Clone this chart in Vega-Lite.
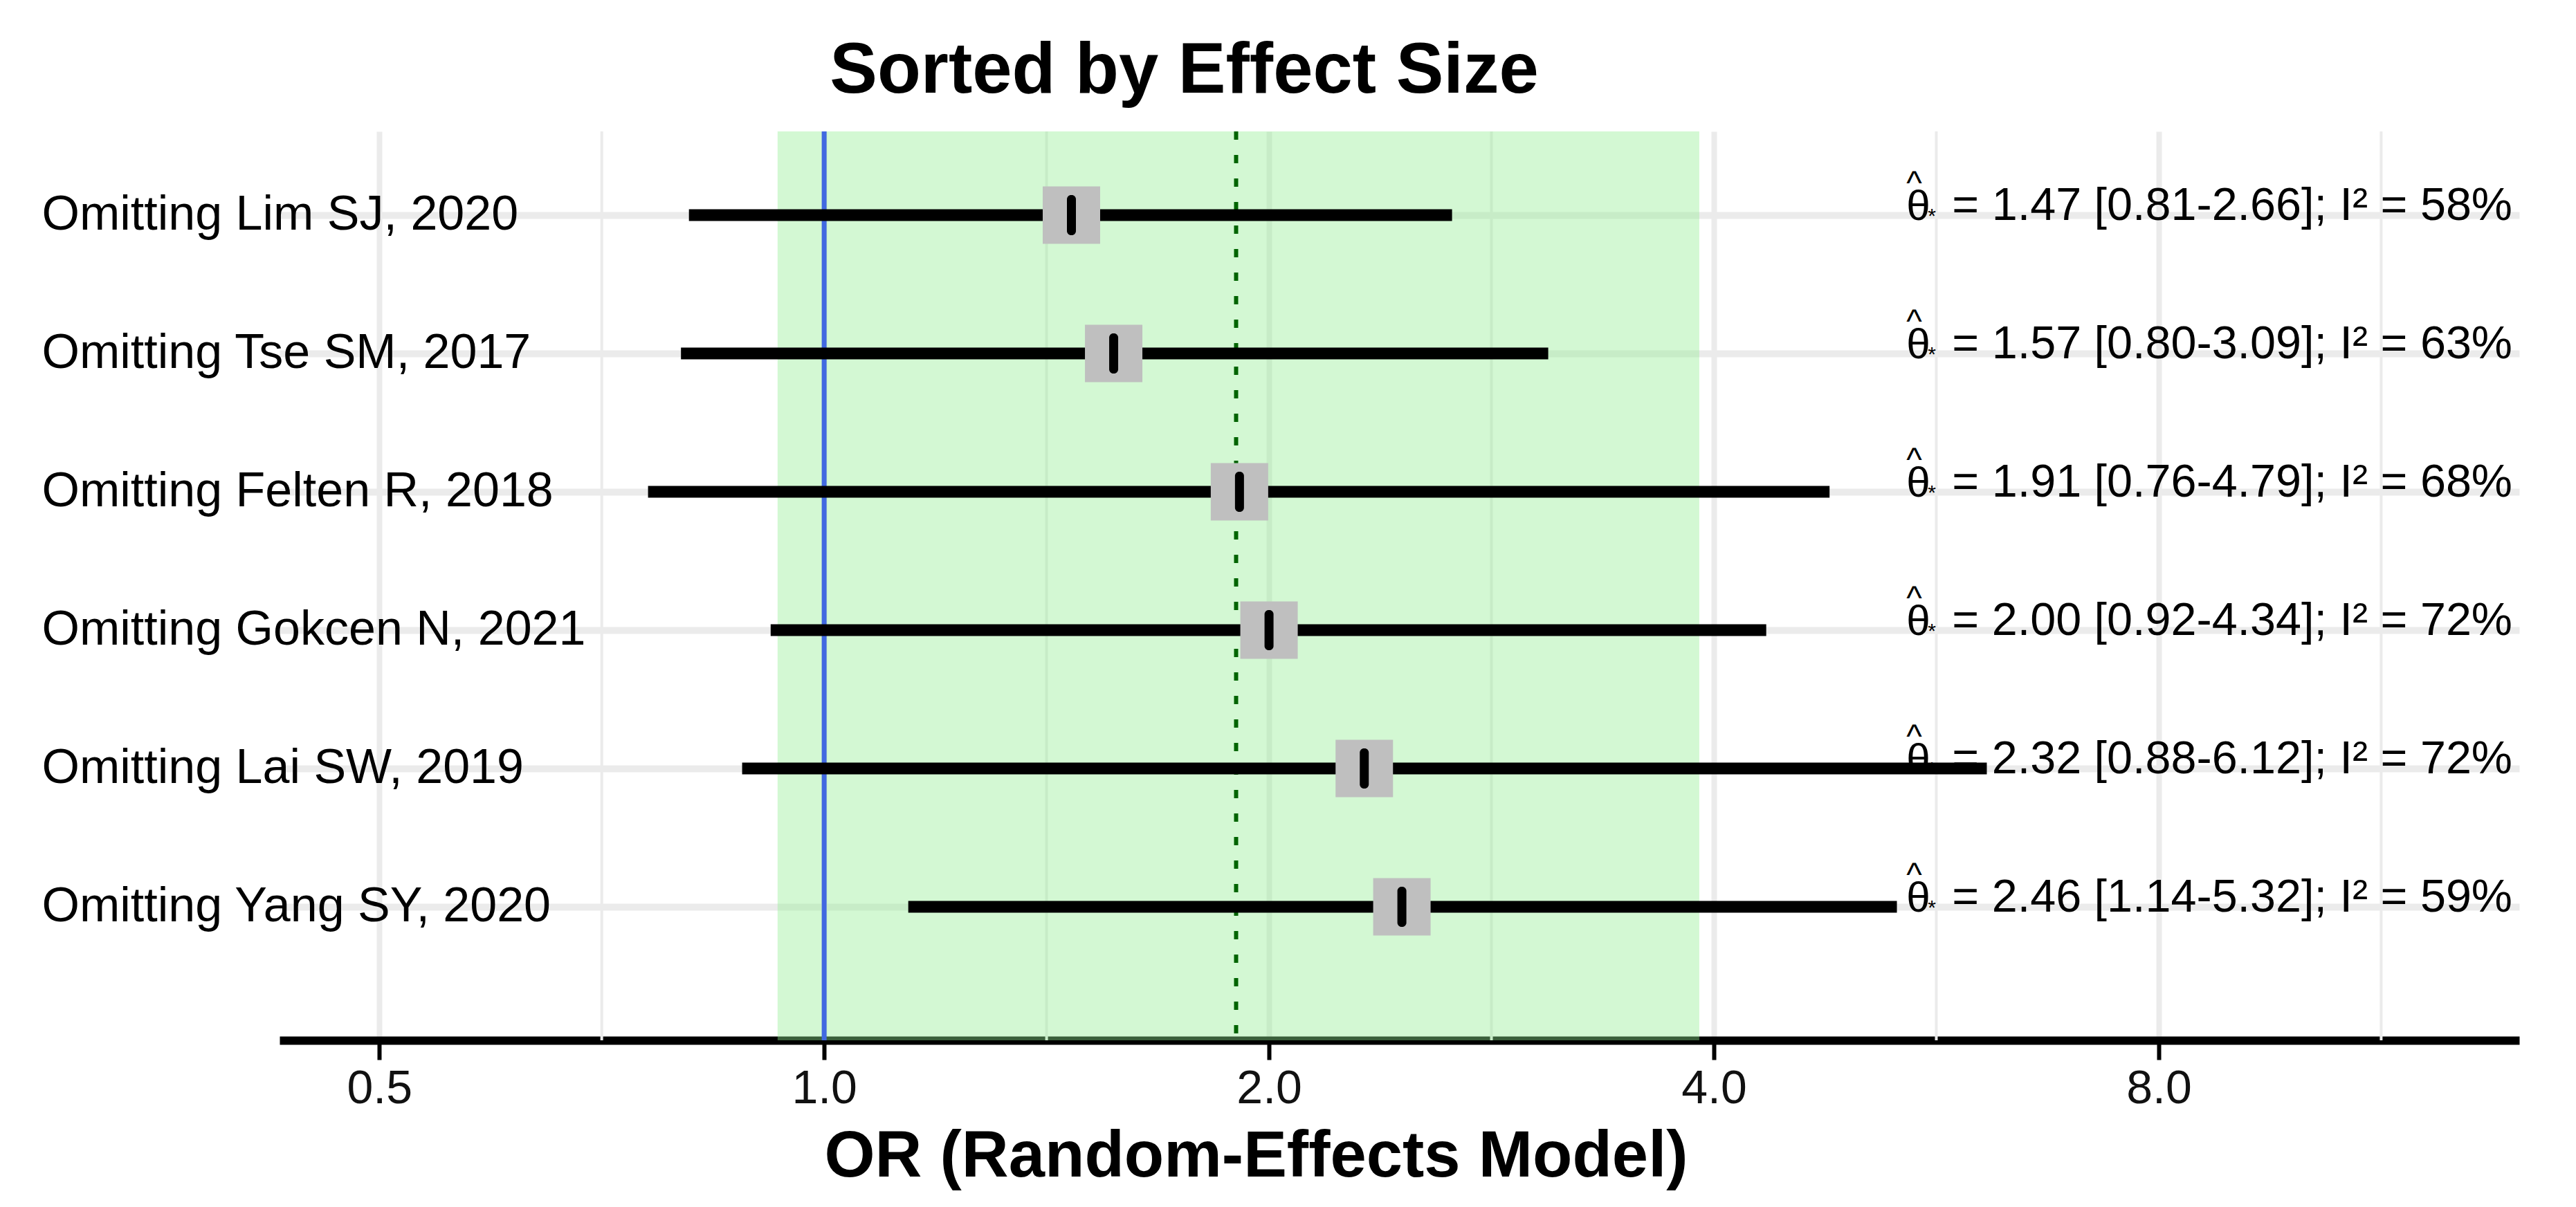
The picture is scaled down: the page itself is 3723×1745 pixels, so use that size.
{
  "$schema": "https://vega.github.io/schema/vega-lite/v6.json",
  "width": 3237,
  "height": 1314,
  "autosize": {"type": "none"},
  "padding": {"left": 404, "top": 190, "right": 82, "bottom": 241},
  "background": "white",
  "config": {
    "view": {"stroke": null},
    "font": "Liberation Sans",
    "axisX": {
      "grid": true,
      "gridColor": "#ebebeb",
      "gridWidth": 8,
      "domain": true,
      "domainColor": "#000000",
      "domainWidth": 12,
      "ticks": true,
      "tickColor": "#000000",
      "tickWidth": 6,
      "tickSize": 28,
      "labelFont": "Liberation Sans",
      "labelFontSize": 68,
      "labelColor": "#111111",
      "labelPadding": 8,
      "labelFlush": false,
      "titleFont": "Liberation Sans",
      "titleFontSize": 94,
      "titleFontWeight": "bold",
      "titleColor": "#000000",
      "titleAlign": "center",
      "titleBaseline": "alphabetic",
      "titleX": 1411,
      "titleY": 196
    },
    "axisY": {
      "domain": false,
      "ticks": false,
      "tickSize": 0,
      "grid": true,
      "gridColor": "#ebebeb",
      "gridWidth": 10,
      "labelAlign": "left",
      "labelBaseline": "middle",
      "labelPadding": 344,
      "labelLimit": 2000,
      "labelFont": "Liberation Sans",
      "labelFontSize": 70,
      "labelColor": "#000000"
    }
  },
  "title": {
    "text": "Sorted by Effect Size",
    "font": "Liberation Sans",
    "fontSize": 103,
    "fontWeight": "bold",
    "color": "#000000",
    "anchor": "middle",
    "frame": "group",
    "baseline": "alphabetic",
    "offset": 41,
    "dx": -311,
    "dy": 91
  },
  "datasets": {
    "studies": [
      {"study": "Omitting Lim SJ, 2020", "estimate": 1.47, "ci_lo": 0.81, "ci_hi": 2.66, "i2": 58, "label": "= 1.47 [0.81-2.66]; I² = 58%"},
      {"study": "Omitting Tse SM, 2017", "estimate": 1.57, "ci_lo": 0.80, "ci_hi": 3.09, "i2": 63, "label": "= 1.57 [0.80-3.09]; I² = 63%"},
      {"study": "Omitting Felten R, 2018", "estimate": 1.91, "ci_lo": 0.76, "ci_hi": 4.79, "i2": 68, "label": "= 1.91 [0.76-4.79]; I² = 68%"},
      {"study": "Omitting Gokcen N, 2021", "estimate": 2.00, "ci_lo": 0.92, "ci_hi": 4.34, "i2": 72, "label": "= 2.00 [0.92-4.34]; I² = 72%"},
      {"study": "Omitting Lai SW, 2019", "estimate": 2.32, "ci_lo": 0.88, "ci_hi": 6.12, "i2": 72, "label": "= 2.32 [0.88-6.12]; I² = 72%"},
      {"study": "Omitting Yang SY, 2020", "estimate": 2.46, "ci_lo": 1.14, "ci_hi": 5.32, "i2": 59, "label": "= 2.46 [1.14-5.32]; I² = 59%"}
    ],
    "summary": [
      {"pooled": 1.90, "pi_lo": 0.93, "pi_hi": 3.91}
    ],
    "minor_breaks": [
      {"brk": 0.7071}, {"brk": 1.4142}, {"brk": 2.8284}, {"brk": 5.6569}, {"brk": 11.3137}
    ]
  },
  "layer": [
    {
      "data": {"name": "minor_breaks"},
      "mark": {"type": "rule", "color": "#ebebeb", "strokeWidth": 4},
      "encoding": {
        "x": {
          "field": "brk",
          "type": "quantitative",
          "title": "OR (Random-Effects Model)",
          "scale": {"type": "log", "base": 2, "domain": [0.428, 14.03], "nice": false, "zero": false},
          "axis": {
            "values": [0.5, 1, 2, 4, 8],
            "format": ".1f"
          }
        }
      }
    },
    {
      "data": {"name": "summary"},
      "mark": {"type": "rect", "fill": "#90ee90", "opacity": 0.4},
      "encoding": {
        "x": {"field": "pi_lo", "type": "quantitative", "title": "OR (Random-Effects Model)"},
        "x2": {"field": "pi_hi"}
      }
    },
    {
      "data": {"name": "summary"},
      "mark": {"type": "rule", "color": "#4169e1", "strokeWidth": 7},
      "encoding": {
        "x": {"datum": 1, "type": "quantitative", "title": "OR (Random-Effects Model)"}
      }
    },
    {
      "data": {"name": "summary"},
      "mark": {"type": "rule", "color": "#006400", "strokeWidth": 6, "strokeDash": [12, 22]},
      "encoding": {
        "x": {"field": "pooled", "type": "quantitative", "title": "OR (Random-Effects Model)"}
      }
    },
    {
      "data": {"name": "studies"},
      "mark": {"type": "rule", "color": "#000000", "strokeWidth": 17},
      "encoding": {
        "x": {"field": "ci_lo", "type": "quantitative", "title": "OR (Random-Effects Model)"},
        "x2": {"field": "ci_hi"},
        "y": {
          "field": "study",
          "type": "nominal",
          "sort": null,
          "title": null,
          "scale": {"type": "point", "padding": 0.785, "align": 0.385}
        }
      }
    },
    {
      "data": {"name": "studies"},
      "mark": {"type": "point", "shape": "square", "filled": true, "size": 6889, "color": "#bfbfbf", "opacity": 1},
      "encoding": {
        "x": {"field": "estimate", "type": "quantitative", "title": "OR (Random-Effects Model)"},
        "y": {"field": "study", "type": "nominal", "sort": null, "title": null}
      }
    },
    {
      "data": {"name": "studies"},
      "mark": {"type": "tick", "orient": "vertical", "size": 58, "thickness": 13, "color": "#000000", "opacity": 1, "cornerRadius": 6},
      "encoding": {
        "x": {"field": "estimate", "type": "quantitative", "title": "OR (Random-Effects Model)"},
        "y": {"field": "study", "type": "nominal", "sort": null, "title": null}
      }
    },
    {
      "data": {"name": "studies"},
      "mark": {"type": "text", "align": "left", "baseline": "alphabetic", "dy": 7, "font": "Liberation Sans", "fontSize": 62, "color": "#000000"},
      "encoding": {
        "x": {"datum": 5.4, "type": "quantitative", "title": "OR (Random-Effects Model)"},
        "y": {"field": "study", "type": "nominal", "sort": null, "title": null},
        "text": {"value": "θ"}
      }
    },
    {
      "data": {"name": "studies"},
      "mark": {"type": "text", "align": "left", "baseline": "alphabetic", "dy": -30, "dx": 0, "font": "Liberation Sans", "fontSize": 48, "color": "#000000"},
      "encoding": {
        "x": {"datum": 5.4, "type": "quantitative", "title": "OR (Random-Effects Model)"},
        "y": {"field": "study", "type": "nominal", "sort": null, "title": null},
        "text": {"value": "^"}
      }
    },
    {
      "data": {"name": "studies"},
      "mark": {"type": "text", "align": "left", "baseline": "alphabetic", "dy": 11, "dx": 31, "font": "Liberation Sans", "fontSize": 30, "color": "#000000"},
      "encoding": {
        "x": {"datum": 5.4, "type": "quantitative", "title": "OR (Random-Effects Model)"},
        "y": {"field": "study", "type": "nominal", "sort": null, "title": null},
        "text": {"value": "*"}
      }
    },
    {
      "data": {"name": "studies"},
      "mark": {"type": "text", "align": "left", "baseline": "alphabetic", "dy": 7, "dx": 66, "font": "Liberation Sans", "fontSize": 66.5, "color": "#000000"},
      "encoding": {
        "x": {"datum": 5.4, "type": "quantitative", "title": "OR (Random-Effects Model)"},
        "y": {"field": "study", "type": "nominal", "sort": null, "title": null},
        "text": {"field": "label"}
      }
    }
  ]
}
